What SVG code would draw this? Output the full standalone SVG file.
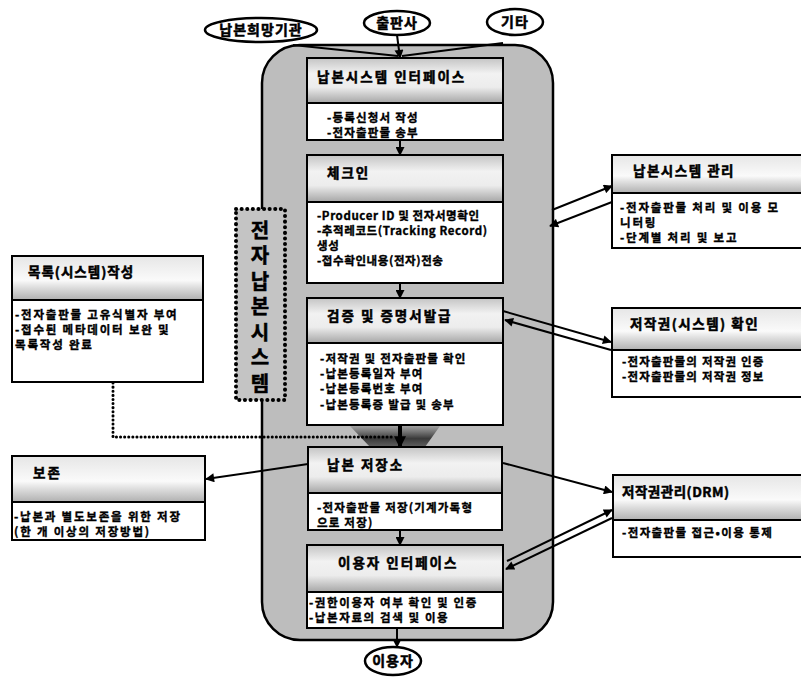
<svg xmlns="http://www.w3.org/2000/svg" width="801" height="678" viewBox="0 0 801 678">
<defs>
<linearGradient id="hdr" x1="0" y1="0" x2="0" y2="1">
<stop offset="0" stop-color="#c4c4c4"/>
<stop offset="0.35" stop-color="#f2f2f2"/>
<stop offset="0.65" stop-color="#ececec"/>
<stop offset="1" stop-color="#a6a6a6"/>
</linearGradient>
<linearGradient id="hdr2" x1="0" y1="0" x2="0" y2="1">
<stop offset="0" stop-color="#e6e6e6"/>
<stop offset="0.55" stop-color="#fafafa"/>
<stop offset="0.7" stop-color="#e0e0e0"/>
<stop offset="1" stop-color="#b0b0b0"/>
</linearGradient>
<linearGradient id="shade" x1="0" y1="0" x2="0" y2="1">
<stop offset="0" stop-color="#333" stop-opacity="0.2"/>
<stop offset="0.6" stop-color="#222" stop-opacity="0.85"/>
<stop offset="1" stop-color="#222" stop-opacity="0.6"/>
</linearGradient>
<marker id="ah" viewBox="0 0 10 10" refX="9" refY="5" markerWidth="11" markerHeight="9" markerUnits="userSpaceOnUse" orient="auto">
<path d="M0,0 L10,5 L0,10 z" fill="#000"/>
</marker>
<marker id="ahb" viewBox="0 0 10 10" refX="9" refY="5" markerWidth="14" markerHeight="12" markerUnits="userSpaceOnUse" orient="auto">
<path d="M0,0 L10,5 L0,10 z" fill="#000"/>
</marker>
</defs>
<style>
text{font-family:"Noto Sans CJK KR","Noto Sans",sans-serif;font-weight:bold;fill:#000;stroke:#000;stroke-width:0.35px}
.ttl{font-size:13.5px;letter-spacing:2px;stroke-width:0.5px}
.bd{font-size:11.5px;letter-spacing:1.2px}
.el{font-size:14px;letter-spacing:1px;stroke-width:0.5px}
.vt{font-size:20px;letter-spacing:5.5px;stroke-width:0.5px;writing-mode:vertical-rl;text-orientation:upright}
.box{fill:#fff;stroke:#000;stroke-width:2}
.hd{fill:url(#hdr);stroke:#000;stroke-width:2}
.hd2{fill:url(#hdr2);stroke:#000;stroke-width:2}
.ell{fill:#fff;stroke:#000;stroke-width:2.5}
.ln{fill:none;stroke:#000;stroke-width:2;marker-end:url(#ah)}
.pl{fill:none;stroke:#000;stroke-width:2}
</style>
<rect width="801" height="678" fill="#fff"/>

<g id="system-frame">
<rect x="262" y="45" width="291" height="595" rx="38" ry="38" fill="#bdbdbd" stroke="#000" stroke-width="2.5"/>
</g>

<g id="system-label">
<rect x="236" y="209" width="49" height="191" fill="#c4c4c4" stroke="#000" stroke-width="4" stroke-dasharray="0.1 5.5" stroke-linecap="round"/>
<text x="260" y="220" class="vt">전자납본시스템</text>
</g>

<g id="connectors">
<line x1="293" y1="45" x2="398" y2="56" class="pl"/>
<line x1="503" y1="43" x2="402" y2="56" class="pl"/>
<line x1="397" y1="35" x2="400" y2="58" class="ln"/>
<line x1="400" y1="139" x2="400" y2="155" class="ln"/>
<line x1="400" y1="283" x2="400" y2="298" class="ln"/>
<path d="M350,426 L440,426 L425,447 L370,447 Z" fill="url(#shade)"/>
<line x1="400" y1="425" x2="400" y2="447" stroke="#000" stroke-width="4" marker-end="url(#ahb)"/>
<line x1="400" y1="530" x2="400" y2="545" class="ln"/>
<line x1="397" y1="628" x2="397" y2="647" class="ln"/>
<polyline points="113,383 113,437 395,437" fill="none" stroke="#000" stroke-width="3" stroke-dasharray="0.1 4" stroke-linecap="round"/>
<line x1="308" y1="464" x2="206" y2="479" class="ln"/>
<line x1="552" y1="210" x2="612" y2="186" class="ln"/>
<line x1="612" y1="202" x2="550" y2="226" class="ln"/>
<line x1="503" y1="311" x2="611" y2="342" class="ln"/>
<line x1="611" y1="350" x2="505" y2="320" class="ln"/>
<line x1="503" y1="463" x2="612" y2="492" class="ln"/>
<line x1="507" y1="561" x2="612" y2="510" class="ln"/>
<line x1="612" y1="518" x2="506" y2="569" class="ln"/>
</g>

<g id="source-1">
<ellipse cx="261" cy="30" rx="56" ry="12" class="ell"/>
<text x="261" y="35" class="el" text-anchor="middle">납본희망기관</text>
</g>
<g id="source-2">
<ellipse cx="397" cy="23" rx="33" ry="12" class="ell"/>
<text x="397" y="28" class="el" text-anchor="middle">출판사</text>
</g>
<g id="source-3">
<ellipse cx="515" cy="22" rx="28" ry="13" class="ell"/>
<text x="515" y="27" class="el" text-anchor="middle">기타</text>
</g>

<g id="deposit-interface">
<rect x="307" y="58" width="196" height="82" class="box"/>
<rect x="307" y="58" width="196" height="45" class="hd"/>
<text x="317" y="82" class="ttl">납본시스템 인터페이스</text>
<text class="bd"><tspan x="327" y="122">-등록신청서 작성</tspan><tspan x="327" y="137">-전자출판물 송부</tspan></text>
</g>

<g id="check-in">
<rect x="307" y="155" width="196" height="128" class="box"/>
<rect x="307" y="155" width="196" height="47" class="hd"/>
<text x="327" y="178" class="ttl">체크인</text>
<text class="bd" style="letter-spacing:0.6px"><tspan x="317" y="220">-Producer ID 및 전자서명확인</tspan><tspan x="317" y="235">-추적레코드(Tracking Record)</tspan><tspan x="317" y="250">생성</tspan><tspan x="317" y="265">-접수확인내용(전자)전송</tspan></text>
</g>

<g id="verification">
<rect x="307" y="298" width="196" height="127" class="box"/>
<rect x="307" y="298" width="196" height="45" class="hd"/>
<text x="327" y="321" class="ttl">검증 및 증명서발급</text>
<text class="bd"><tspan x="320" y="363">-저작권 및 전자출판물 확인</tspan><tspan x="320" y="378">-납본등록일자 부여</tspan><tspan x="320" y="393">-납본등록번호 부여</tspan><tspan x="320" y="409">-납본등록증 발급 및 송부</tspan></text>
</g>

<g id="repository">
<rect x="308" y="447" width="194" height="83" class="box"/>
<rect x="308" y="447" width="194" height="46" class="hd"/>
<text x="327" y="470" class="ttl">납본 저장소</text>
<text class="bd"><tspan x="317" y="512">-전자출판물 저장(기계가독형</tspan><tspan x="317" y="527">으로 저장)</tspan></text>
</g>

<g id="user-interface">
<rect x="307" y="545" width="196" height="83" class="box"/>
<rect x="307" y="545" width="196" height="47" class="hd"/>
<text x="338" y="568" class="ttl">이용자 인터페이스</text>
<text class="bd" style="letter-spacing:1.6px"><tspan x="309" y="607">-권한이용자 여부 확인 및 인증</tspan><tspan x="309" y="622">-납본자료의 검색 및 이용</tspan></text>
</g>

<g id="user">
<ellipse cx="393" cy="661" rx="28" ry="14" class="ell"/>
<text x="393" y="666" class="el" text-anchor="middle">이용자</text>
</g>

<g id="cataloging">
<rect x="12" y="256" width="191" height="126" class="box"/>
<rect x="12" y="256" width="191" height="44" class="hd2"/>
<text x="28" y="277" class="ttl" style="letter-spacing:1px">목록(시스템)작성</text>
<text class="bd" style="letter-spacing:1.8px"><tspan x="15" y="319">-전자출판물 고유식별자 부여</tspan><tspan x="15" y="334">-접수된 메타데이터 보완 및</tspan><tspan x="15" y="349">목록작성 완료</tspan></text>
</g>

<g id="preservation">
<rect x="12" y="456" width="193" height="84" class="box"/>
<rect x="12" y="456" width="193" height="46" class="hd2"/>
<text x="33" y="478" class="ttl">보존</text>
<text class="bd" style="letter-spacing:1.8px"><tspan x="14" y="521">-납본과 별도보존을 위한 저장</tspan><tspan x="14" y="536">(한 개 이상의 저장방법)</tspan></text>
</g>

<g id="system-management">
<rect x="612" y="155" width="200" height="93" class="box"/>
<rect x="612" y="155" width="200" height="38" class="hd2"/>
<text x="633" y="176" class="ttl" style="letter-spacing:1.5px">납본시스템 관리</text>
<text class="bd" style="letter-spacing:1.8px"><tspan x="620" y="212">-전자출판물 처리 및 이용 모</tspan><tspan x="620" y="227">니터링</tspan><tspan x="620" y="242">-단계별 처리 및 보고</tspan></text>
</g>

<g id="copyright-check">
<rect x="612" y="308" width="200" height="89" class="box"/>
<rect x="612" y="308" width="200" height="42" class="hd2"/>
<text x="630" y="329" class="ttl" style="letter-spacing:1.5px">저작권(시스템) 확인</text>
<text class="bd" style="letter-spacing:1.2px"><tspan x="622" y="366">-전자출판물의 저작권 인증</tspan><tspan x="622" y="381">-전자출판물의 저작권 정보</tspan></text>
</g>

<g id="drm">
<rect x="613" y="475" width="200" height="82" class="box"/>
<rect x="613" y="475" width="200" height="45" class="hd2"/>
<text x="622" y="497" class="ttl" style="letter-spacing:0.5px">저작권관리(DRM)</text>
<text x="622" y="537" class="bd" style="letter-spacing:1.4px">-전자출판물 접근•이용 통제</text>
</g>
</svg>
